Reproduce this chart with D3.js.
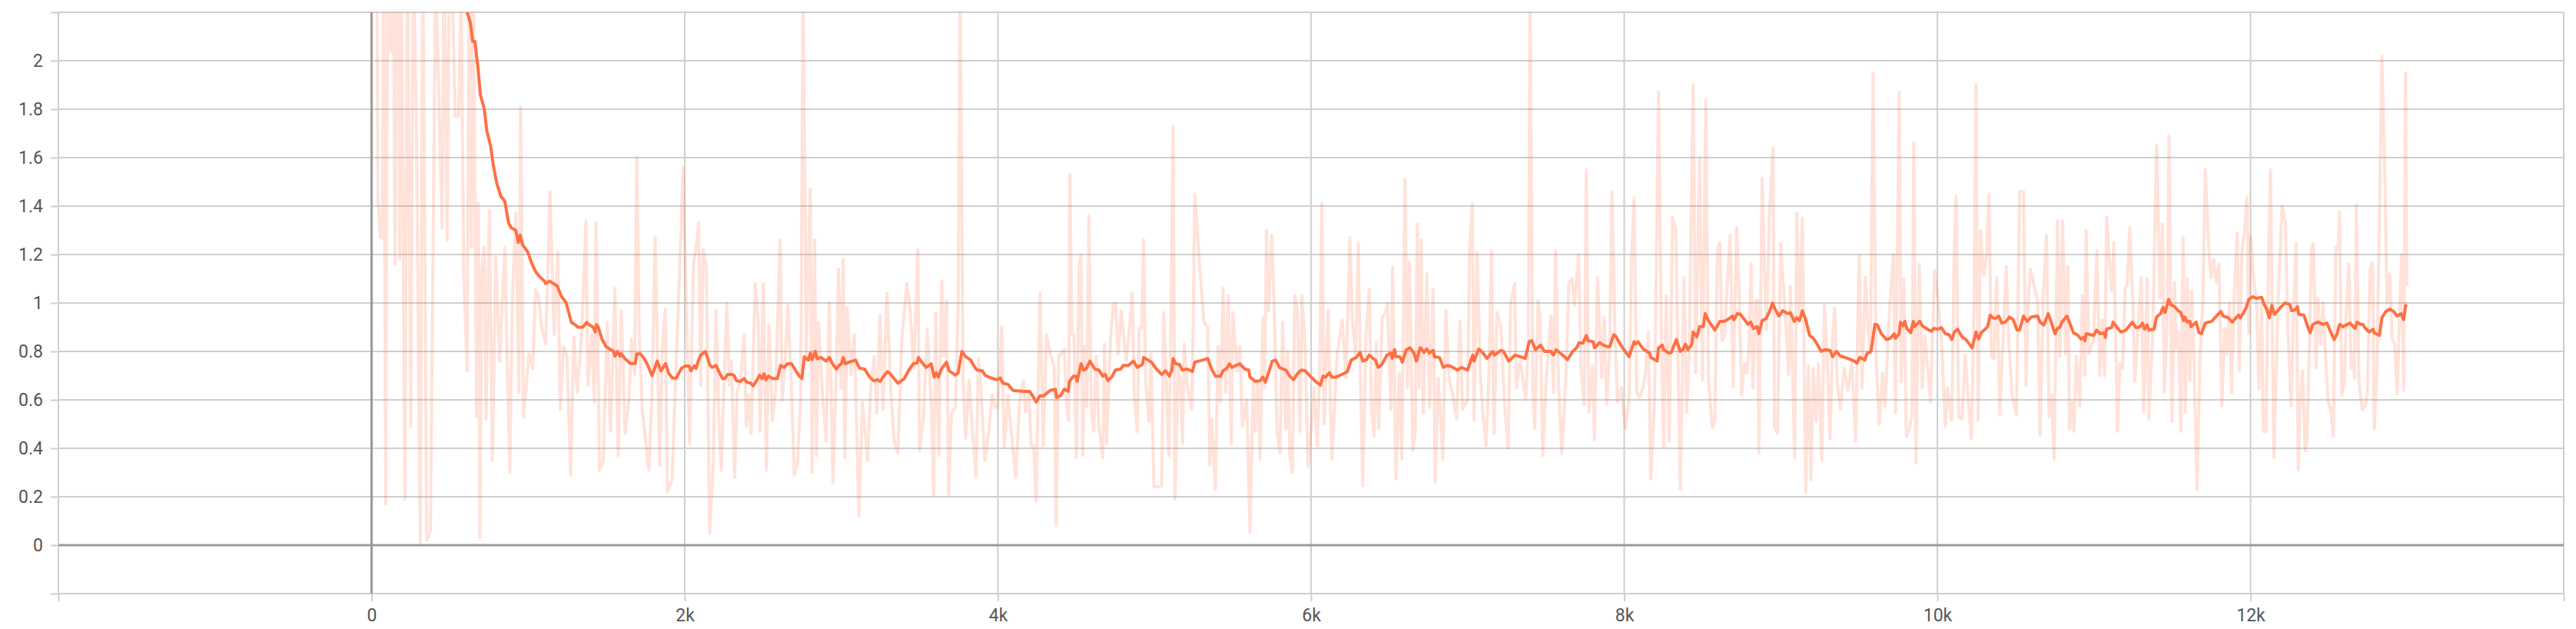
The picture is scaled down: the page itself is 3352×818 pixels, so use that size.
<!DOCTYPE html>
<html>
<head>
<meta charset="utf-8">
<script src="https://cdn.jsdelivr.net/npm/d3@7"></script>
<style>
  html, body { margin: 0; padding: 0; background: #fff; }
  svg { display: block; }
  .tick text { font-family: Roboto, "Noto Sans", sans-serif; font-size: 23px; fill: #555; }
</style>
</head>
<body>
<svg id="chart" width="3352" height="818"></svg>
<script>
// ---------- data ----------
const xTicks = [-2000, 0, 2000, 4000, 6000, 8000, 10000, 12000, 14000];
const xTickLabels = ["", "0", "2k", "4k", "6k", "8k", "10k", "12k", ""];
const yTicks = [-0.2, 0, 0.2, 0.4, 0.6, 0.8, 1, 1.2, 1.4, 1.6, 1.8, 2, 2.2];
const yTickLabels = ["", "0", "0.2", "0.4", "0.6", "0.8", "1", "1.2", "1.4", "1.6", "1.8", "2", ""];

// smoothed series [step, value]
const smoothPoints = [
[30,4.5],[200,3.4],[400,2.7],[520,2.4],[580,2.28],
[610,2.20],[630,2.16],[646,2.08],[660,2.08],[679,1.975],[695,1.86],[720,1.80],[736,1.71],[760,1.65],[777,1.57],[801,1.49],[826,1.44],[851,1.42],[875,1.33],[892,1.31],[921,1.30],[937,1.25],[949,1.28],[965,1.24],[998,1.21],[1022,1.165],[1047,1.13],[1071,1.11],[1104,1.09],[1112,1.08],[1137,1.09],[1186,1.07],[1210,1.03],[1243,1.00],[1276,0.92],[1300,0.91],[1317,0.90],[1349,0.90],[1374,0.92],[1390,0.91],[1415,0.90],[1428,0.88],[1436,0.91],[1448,0.90],[1472,0.85],[1497,0.82],[1521,0.81],[1546,0.80],[1554,0.78],[1570,0.80],[1587,0.78],[1595,0.79],[1619,0.77],[1652,0.75],[1685,0.75],[1693,0.79],[1717,0.79],[1742,0.77],[1766,0.74],[1791,0.70],[1824,0.76],[1848,0.72],[1878,0.75],[1897,0.71],[1922,0.69],[1946,0.69],[1979,0.73],[2004,0.74],[2028,0.74],[2040,0.72],[2061,0.74],[2072,0.73],[2086,0.76],[2102,0.785],[2131,0.80],[2148,0.77],[2159,0.745],
[2175,0.734],[2200,0.742],[2216,0.72],[2241,0.688],[2257,0.688],[2273,0.705],[2298,0.705],[2314,0.702],[2331,0.679],[2355,0.676],[2380,0.688],[2396,0.673],[2421,0.669],[2437,0.657],[2462,0.683],[2478,0.702],[2494,0.688],[2507,0.708],[2519,0.683],[2535,0.698],[2560,0.688],[2592,0.688],[2612,0.742],[2633,0.734],[2658,0.749],[2682,0.749],[2707,0.723],[2731,0.698],[2748,0.688],[2764,0.778],[2789,0.764],[2802,0.793],[2813,0.766],[2834,0.80],[2846,0.77],[2870,0.775],[2903,0.76],[2924,0.775],[2944,0.749],[2969,0.727],[2985,0.742],[3001,0.749],[3013,0.775],[3026,0.749],[3050,0.756],[3091,0.764],[3116,0.731],[3149,0.727],[3181,0.694],[3206,0.679],[3230,0.683],[3247,0.676],[3271,0.698],[3296,0.717],[3312,0.708],[3337,0.688],[3361,0.669],[3402,0.688],[3435,0.727],[3459,0.749],[3484,0.752],[3492,0.775],[3508,0.76],[3541,0.734],[3574,0.749],[3593,0.694],[3606,0.712],[3620,0.694],[3639,0.727],[3672,0.756],[3688,0.72],[3729,0.702],[3746,0.712],[3770,0.80],[3795,0.778],[3827,0.764],[3852,0.734],[3868,0.723],[3901,0.72],[3917,0.702],[3942,0.694],[3991,0.683],[4015,0.69],[4032,0.669],[4064,0.664],[4097,0.639],[4163,0.635],[4203,0.635],[4228,0.61],[4244,0.591],[4269,0.617],[4293,0.617],
[4334,0.639],[4367,0.644],[4375,0.61],[4400,0.617],[4424,0.644],[4449,0.635],[4457,0.676],[4482,0.698],[4498,0.698],[4506,0.676],[4531,0.749],[4547,0.723],[4563,0.727],[4588,0.76],[4620,0.727],[4645,0.723],[4670,0.698],[4686,0.705],[4702,0.679],[4727,0.694],[4751,0.723],[4784,0.727],[4800,0.742],[4833,0.742],[4866,0.76],[4890,0.734],[4923,0.746],[4931,0.775],[4980,0.756],[5013,0.727],[5046,0.705],[5070,0.72],[5095,0.698],[5111,0.723],[5119,0.771],[5136,0.749],[5160,0.746],[5177,0.723],[5209,0.727],[5242,0.717],[5258,0.756],[5307,0.764],[5340,0.771],[5365,0.727],[5389,0.698],[5422,0.698],[5438,0.72],[5463,0.731],[5479,0.749],[5495,0.734],[5520,0.742],[5545,0.749],[5577,0.727],[5602,0.723],[5610,0.694],[5643,0.676],[5675,0.679],[5692,0.694],[5708,0.673],[5733,0.72],[5752,0.76],[5774,0.764],[5798,0.734],[5823,0.727],[5839,0.723],[5864,0.698],[5888,0.683],[5913,0.708],[5937,0.723],[5962,0.72],[5994,0.698],[6035,0.673],[6060,0.661],[6076,0.698],[6093,0.694],[6117,0.712],[6133,0.694],[6158,0.694],[6207,0.708],[6232,0.717],[6256,0.764],[6289,0.775],[6313,0.796],[6330,0.76],[6354,0.766],[6371,0.785],[6395,0.771],[6412,0.764],[6428,0.734],[6452,0.746],
[6485,0.785],[6510,0.793],[6518,0.771],[6534,0.807],[6542,0.778],[6567,0.778],[6583,0.756],[6608,0.807],[6632,0.815],[6657,0.793],[6673,0.76],[6690,0.80],[6698,0.815],[6722,0.796],[6739,0.81],[6755,0.793],[6780,0.804],[6788,0.778],[6820,0.775],[6845,0.734],[6870,0.742],[6894,0.738],[6935,0.723],[6960,0.734],[7000,0.723],[7017,0.756],[7033,0.785],[7041,0.76],[7071,0.81],[7099,0.793],[7123,0.771],[7159,0.80],[7172,0.785],[7213,0.804],[7229,0.80],[7262,0.76],[7303,0.785],[7368,0.771],[7393,0.84],[7409,0.844],[7434,0.807],[7466,0.826],[7491,0.80],[7532,0.80],[7548,0.785],[7565,0.807],[7614,0.781],[7638,0.766],[7671,0.80],[7696,0.815],[7712,0.836],[7736,0.834],[7758,0.866],[7769,0.844],[7802,0.84],[7810,0.815],[7843,0.836],[7867,0.826],[7892,0.82],[7908,0.82],[7933,0.869],[7949,0.86],[7965,0.84],[7998,0.807],[8031,0.778],[8063,0.84],[8072,0.83],[8088,0.84],[8121,0.81],[8162,0.793],[8170,0.775],[8211,0.76],[8219,0.815],[8243,0.826],[8252,0.807],[8284,0.793],[8301,0.796],[8317,0.823],[8333,0.849],[8358,0.80],[8374,0.807],[8391,0.83],[8407,0.807],[8432,0.83],[8440,0.88],[8464,0.86],[8481,0.902],[8505,0.902],[8517,0.956],[8538,0.927],[8579,0.888],[8611,0.924],
[8636,0.924],[8660,0.931],[8693,0.946],[8701,0.931],[8723,0.956],[8742,0.953],[8759,0.939],[8791,0.912],[8808,0.921],[8824,0.895],[8849,0.902],[8860,0.873],[8881,0.927],[8906,0.936],[8930,0.968],[8947,1.00],[8963,0.975],[8988,0.946],[9012,0.968],[9045,0.956],[9061,0.96],[9086,0.924],[9102,0.939],[9119,0.927],[9138,0.968],[9159,0.931],[9184,0.866],[9208,0.854],[9233,0.829],[9257,0.80],[9282,0.807],[9315,0.804],[9331,0.778],[9356,0.80],[9380,0.781],[9429,0.771],[9470,0.76],[9486,0.752],[9503,0.775],[9519,0.771],[9536,0.764],[9552,0.793],[9576,0.80],[9601,0.912],[9617,0.909],[9642,0.873],[9675,0.849],[9699,0.854],[9724,0.873],[9732,0.854],[9756,0.873],[9764,0.921],[9781,0.906],[9792,0.924],[9805,0.895],[9830,0.877],[9846,0.924],[9854,0.902],[9887,0.924],[9903,0.906],[9936,0.892],[9961,0.883],[9977,0.895],[10002,0.892],[10026,0.898],[10051,0.873],[10075,0.869],[10092,0.849],[10108,0.88],[10129,0.892],[10157,0.86],[10182,0.849],[10206,0.829],[10222,0.815],[10247,0.88],[10263,0.851],[10280,0.877],[10321,0.902],[10337,0.95],[10353,0.939],[10370,0.936],[10391,0.946],[10411,0.917],[10435,0.921],[10460,0.942],[10484,0.931],[10509,0.888],[10525,0.888],[10550,0.946],[10574,0.924],[10599,0.942],[10640,0.946],[10656,0.921],[10680,0.909],[10708,0.956],[10729,0.917],[10751,0.873],[10767,0.895],[10783,0.90],
[10795,0.921],[10828,0.946],[10869,0.877],[10893,0.869],[10918,0.851],[10934,0.858],[10942,0.844],[10950,0.873],[10999,0.866],[11016,0.888],[11040,0.873],[11065,0.877],[11073,0.858],[11081,0.892],[11114,0.899],[11122,0.921],[11171,0.88],[11204,0.888],[11245,0.921],[11269,0.898],[11294,0.902],[11310,0.917],[11323,0.892],[11340,0.909],[11351,0.888],[11384,0.892],[11400,0.942],[11425,0.956],[11441,0.982],[11454,0.96],[11477,1.015],[11490,0.994],[11515,0.985],[11539,0.968],[11555,0.96],[11572,0.927],[11580,0.942],[11596,0.921],[11613,0.924],[11621,0.902],[11653,0.921],[11670,0.877],[11686,0.873],[11711,0.917],[11752,0.924],[11809,0.965],[11825,0.946],[11858,0.939],[11883,0.921],[11907,0.939],[11924,0.95],[11935,0.939],[11956,0.96],[11973,0.982],[11989,1.015],[12013,1.026],[12038,1.019],[12071,1.023],[12087,0.994],[12103,0.975],[12120,0.939],[12136,0.99],[12152,0.953],[12177,0.971],[12218,1.00],[12251,0.994],[12262,0.968],[12283,0.971],[12300,0.985],[12308,0.953],[12341,0.95],[12365,0.902],[12381,0.877],[12398,0.912],[12430,0.921],[12463,0.912],[12488,0.917],[12512,0.88],[12534,0.849],[12553,0.873],[12569,0.912],[12589,0.902],[12635,0.917],[12668,0.895],[12681,0.921],[12700,0.912],[12717,0.912],[12733,0.895],[12758,0.88],[12782,0.892],[12790,0.877],[12823,0.866],[12839,0.939],[12864,0.965],[12888,0.975],[12913,0.965],[12937,0.946],[12962,0.956],[12978,0.931],[12991,0.99],[12998,0.994]
];

// raw series [step, value]
const rawPoints = [
[33,2.6],[41,1.43],[57,1.27],[69,1.27],[77,2.4],[90,0.17],[103,2.5],[120,2.04],[131,2.04],[139,2.4],[150,1.16],[160,2.5],[172,2.3],[180,1.18],[191,2.4],[213,0.19],[229,2.6],[250,0.49],[267,2.5],[286,1.74],[311,0.01],[327,2.5],[352,0.02],[376,0.06],[393,1.23],[409,2.4],[450,1.31],[463,2.5],[483,1.26],[496,2.4],[515,2.3],[535,1.77],[556,1.77],[572,2.3],[589,1.11],[610,0.72],[625,2.5],[638,1.23],[649,2.4],[671,0.53],[682,1.41],[692,0.03],[703,1.13],[720,1.23],[731,0.52],[752,1.38],[772,0.35],[793,1.19],[818,0.76],[851,1.23],[862,0.88],[883,0.30],[900,1.03],[921,1.37],[941,0.63],[952,1.81],[970,0.53],[1006,0.79],[1030,0.73],[1047,1.055],[1068,1.02],[1088,0.895],[1112,0.83],[1140,1.46],[1166,0.87],[1189,1.21],[1205,0.56],[1227,0.82],[1248,0.78],[1271,0.29],[1292,0.86],[1313,0.63],[1341,0.86],[1369,1.34],[1382,0.66],[1407,0.87],[1423,0.59],[1434,1.33],[1456,0.31],[1480,0.35],[1505,0.92],[1526,0.47],[1554,1.06],[1575,0.37],[1595,0.97],[1619,0.46],[1644,0.60],[1660,0.85],[1680,0.705],[1693,1.60],[1709,0.88],[1729,0.56],[1750,0.43],[1771,0.31],[1791,0.63],[1811,1.27],[1840,0.33],[1856,0.81],[1876,0.975],[1889,0.22],[1919,0.27],[1938,0.62],[1968,1.14],[1990,1.56],[2012,0.94],[2031,0.42],[2056,1.16],[2077,1.25],[2089,1.33],[2102,0.66],[2118,1.22],[2138,1.15],
[2159,0.05],[2183,0.35],[2200,0.97],[2216,0.56],[2233,0.31],[2252,0.68],[2269,1.00],[2285,0.66],[2298,0.76],[2319,0.28],[2334,0.63],[2355,0.68],[2380,0.87],[2393,0.49],[2409,0.62],[2424,0.46],[2450,1.08],[2470,0.92],[2481,0.47],[2502,1.08],[2522,0.31],[2538,0.91],[2560,0.515],[2579,0.63],[2609,1.26],[2622,0.595],[2638,0.73],[2658,0.99],[2682,0.65],[2699,0.29],[2720,0.34],[2740,0.59],[2756,2.3],[2776,0.76],[2789,1.20],[2802,1.47],[2813,0.30],[2830,1.26],[2841,0.37],[2854,0.92],[2879,0.63],[2903,0.43],[2923,1.00],[2947,0.26],[2965,0.65],[2982,1.14],[2998,0.65],[3013,1.18],[3022,0.36],[3037,0.98],[3063,0.705],[3083,0.87],[3112,0.12],[3135,0.59],[3168,0.35],[3189,0.67],[3211,0.78],[3227,0.545],[3247,0.95],[3266,0.56],[3292,1.04],[3315,0.65],[3337,0.435],[3361,0.38],[3386,0.84],[3418,1.08],[3440,0.97],[3462,0.73],[3489,1.22],[3500,0.39],[3525,0.53],[3549,0.89],[3574,0.59],[3590,0.21],[3603,0.96],[3623,0.37],[3642,1.09],[3656,0.78],[3672,1.01],[3685,0.21],[3704,0.545],[3729,0.57],[3746,0.98],[3759,2.3],[3778,0.68],[3794,0.44],[3816,0.68],[3835,0.50],[3860,0.28],[3876,0.77],[3893,0.63],[3917,0.35],[3942,0.47],[3963,0.62],[3983,0.57],[3999,0.565],[4024,0.90],[4040,0.405],[4064,0.62],[4089,0.44],[4114,0.28],[4138,0.59],[4163,0.68],[4176,0.55],[4199,0.625],[4212,0.41],[4228,0.41],[4244,0.18],[4269,1.04],[4290,0.41],
[4310,0.87],[4334,0.79],[4359,0.74],[4372,0.08],[4388,0.785],[4400,0.785],[4424,0.81],[4437,0.60],[4452,0.515],[4460,1.53],[4473,0.87],[4486,0.87],[4501,0.36],[4519,1.14],[4530,1.20],[4542,0.37],[4555,0.82],[4568,0.57],[4581,1.36],[4596,0.57],[4612,0.47],[4629,0.78],[4645,0.49],[4670,0.36],[4681,0.83],[4694,0.42],[4719,0.84],[4735,0.99],[4751,1.00],[4768,0.79],[4787,0.97],[4820,0.76],[4846,0.94],[4858,1.04],[4871,0.62],[4890,0.47],[4902,0.895],[4918,0.895],[4931,1.26],[4944,0.67],[4964,0.51],[4977,0.79],[4997,0.24],[5046,0.245],[5059,0.96],[5075,0.68],[5092,0.37],[5106,0.97],[5119,1.73],[5131,0.19],[5152,0.75],[5168,0.65],[5180,0.42],[5190,0.83],[5209,0.66],[5239,0.56],[5258,1.45],[5283,1.20],[5316,0.92],[5340,0.90],[5353,0.33],[5365,0.52],[5389,0.23],[5406,0.82],[5422,0.59],[5438,1.06],[5455,0.63],[5471,1.03],[5491,0.42],[5500,0.96],[5528,0.72],[5545,0.82],[5561,0.49],[5589,0.60],[5610,0.055],[5631,0.68],[5643,0.47],[5659,0.68],[5675,0.355],[5692,0.94],[5703,0.65],[5716,1.30],[5728,0.97],[5749,1.28],[5765,0.97],[5782,0.48],[5801,0.38],[5818,0.92],[5839,0.48],[5850,0.80],[5864,0.38],[5880,0.30],[5896,1.03],[5913,0.97],[5929,0.47],[5942,1.03],[5962,0.82],[5981,0.325],[6003,0.49],[6019,0.65],[6040,0.41],[6057,0.77],[6068,1.41],[6084,0.50],[6109,0.97],[6133,0.355],[6166,0.78],[6199,0.93],[6223,0.69],[6248,1.27],[6264,0.93],[6285,0.785],[6302,1.245],[6317,0.65],[6330,0.245],[6351,0.87],[6371,1.055],[6387,0.55],[6403,0.45],[6416,0.84],[6432,0.48],[6455,0.94],
[6477,0.96],[6488,1.00],[6510,0.56],[6521,1.15],[6542,0.275],[6564,0.71],[6580,0.355],[6600,1.51],[6616,0.65],[6629,1.17],[6649,0.39],[6665,0.46],[6678,1.325],[6690,0.65],[6703,1.26],[6717,0.545],[6739,1.12],[6758,0.57],[6780,1.055],[6793,0.26],[6812,0.69],[6842,0.355],[6861,0.97],[6881,0.69],[6902,0.63],[6930,0.52],[6951,0.925],[6968,0.56],[7000,0.60],[7012,1.215],[7030,1.41],[7041,0.515],[7061,1.21],[7082,0.69],[7099,0.53],[7118,0.41],[7136,0.705],[7152,1.215],[7169,0.46],[7188,0.96],[7213,0.895],[7237,0.57],[7259,0.40],[7275,1.00],[7300,1.08],[7311,0.65],[7336,0.76],[7372,0.60],[7388,0.85],[7398,2.3],[7417,0.63],[7429,0.48],[7450,1.01],[7463,0.94],[7480,0.37],[7499,0.65],[7512,0.78],[7532,0.946],[7548,0.63],[7561,1.215],[7581,0.66],[7601,0.38],[7627,0.68],[7646,1.08],[7666,1.10],[7682,0.99],[7708,1.20],[7725,0.72],[7745,0.58],[7758,1.55],[7774,0.55],[7797,0.74],[7810,0.435],[7830,1.105],[7856,0.69],[7872,0.94],[7888,0.58],[7908,0.82],[7921,1.46],[7941,0.88],[7957,0.59],[7982,0.65],[8006,0.48],[8031,0.60],[8047,1.18],[8063,1.435],[8080,0.63],[8096,0.61],[8121,0.65],[8137,0.72],[8153,0.88],[8170,0.275],[8194,0.60],[8219,1.87],[8239,0.79],[8252,0.405],[8268,1.03],[8288,0.43],[8309,1.355],[8330,1.30],[8358,0.23],[8382,1.105],[8399,0.55],[8415,0.79],[8440,1.90],[8456,0.71],[8481,1.60],[8500,0.68],[8521,1.84],[8538,0.68],[8563,0.485],[8579,0.515],[8595,1.22],[8611,1.25],
[8624,0.845],[8641,0.865],[8660,1.10],[8677,1.28],[8696,0.655],[8718,1.31],[8734,1.05],[8750,0.62],[8767,0.75],[8783,0.71],[8795,0.79],[8811,1.16],[8821,0.65],[8840,1.01],[8852,1.01],[8860,0.38],[8881,1.515],[8898,1.10],[8909,0.89],[8927,1.36],[8950,1.64],[8960,0.49],[8979,0.46],[8999,1.245],[9020,1.04],[9037,0.865],[9050,0.705],[9061,1.07],[9089,0.36],[9102,1.37],[9119,0.925],[9138,1.35],[9159,0.22],[9176,0.74],[9192,0.27],[9208,0.73],[9225,0.51],[9241,0.75],[9261,0.35],[9279,0.99],[9298,0.74],[9315,0.44],[9331,0.85],[9344,0.98],[9360,0.675],[9380,0.56],[9405,0.73],[9429,0.64],[9454,0.75],[9478,0.43],[9500,1.195],[9519,0.65],[9540,1.105],[9557,0.895],[9573,0.79],[9589,1.95],[9609,0.76],[9629,0.50],[9650,0.71],[9666,0.57],[9691,0.94],[9720,1.20],[9732,0.545],[9756,1.87],[9769,0.675],[9786,1.10],[9802,0.45],[9825,0.49],[9838,0.54],[9849,1.66],[9863,0.34],[9884,1.16],[9904,0.65],[9920,0.865],[9940,0.72],[9956,0.59],[9982,1.135],[10002,1.03],[10026,0.85],[10051,0.49],[10064,0.65],[10092,0.515],[10108,1.23],[10120,1.44],[10136,0.53],[10157,0.52],[10178,0.785],[10198,0.59],[10218,0.44],[10234,1.00],[10247,1.90],[10260,0.515],[10276,1.30],[10296,1.115],[10313,1.19],[10329,1.45],[10345,0.78],[10362,0.77],[10378,1.105],[10399,0.54],[10419,0.845],[10440,1.15],[10456,0.845],[10476,0.625],[10505,0.54],[10525,1.46],[10550,1.46],[10566,0.66],[10582,1.02],[10594,1.14],[10615,1.08],[10640,1.01],[10656,0.455],[10676,1.03],[10697,1.28],[10713,0.53],[10729,0.62],[10746,0.355],[10767,1.34],
[10783,0.78],[10800,1.34],[10819,0.79],[10833,1.15],[10844,0.48],[10860,0.59],[10872,0.47],[10888,0.78],[10909,0.575],[10926,1.03],[10942,0.70],[10950,1.30],[10967,0.79],[10996,0.845],[11019,1.215],[11037,0.70],[11052,0.93],[11068,0.70],[11081,1.355],[11098,1.18],[11114,1.05],[11127,1.25],[11150,0.47],[11166,0.75],[11183,0.73],[11199,1.06],[11212,1.07],[11228,1.31],[11248,1.01],[11261,0.675],[11281,0.895],[11302,1.105],[11318,0.55],[11340,1.10],[11351,0.52],[11376,0.89],[11400,1.65],[11421,1.02],[11438,1.325],[11449,0.63],[11466,0.89],[11479,1.69],[11498,0.51],[11515,1.085],[11526,0.815],[11539,0.88],[11555,0.47],[11569,1.27],[11583,0.55],[11596,1.10],[11613,0.68],[11624,1.05],[11637,0.81],[11658,0.23],[11678,0.79],[11695,0.99],[11711,1.55],[11735,1.20],[11747,1.105],[11765,1.18],[11781,1.085],[11798,1.16],[11817,0.575],[11834,0.895],[11850,0.79],[11866,1.00],[11879,0.63],[11896,1.03],[11915,1.29],[11928,0.72],[11945,1.21],[11961,1.30],[11977,1.435],[11989,0.875],[12000,1.275],[12022,1.085],[12038,1.00],[12054,0.645],[12071,1.00],[12082,0.47],[12099,0.47],[12115,1.19],[12128,1.55],[12149,0.36],[12177,1.03],[12202,1.40],[12223,1.33],[12239,0.88],[12259,0.575],[12275,0.955],[12291,1.245],[12305,0.31],[12316,0.575],[12332,0.72],[12349,0.39],[12360,0.43],[12376,0.82],[12390,1.23],[12401,1.245],[12419,0.73],[12430,1.02],[12447,0.83],[12463,1.00],[12480,0.78],[12496,0.59],[12512,0.56],[12529,0.45],[12545,1.23],[12558,1.22],[12569,1.375],[12583,0.62],[12599,0.68],[12610,0.94],[12627,1.16],[12643,0.73],[12655,0.79],[12664,0.69],[12676,1.405],[12692,0.68],[12713,0.56],[12730,0.575],[12746,0.62],[12763,1.14],[12779,1.165],[12790,0.48],[12807,0.72],[12828,1.54],[12839,2.02],[12856,1.58],[12872,1.00],[12888,1.12],[12905,0.85],[12921,0.83],[12937,0.625],[12954,1.01],[12965,1.20],[12978,0.64],[12990,1.95],[12998,1.07]
];

// ---------- layout ----------
const plotLeft = 76, plotRight = 3336, plotTop = 16, plotBottom = 772;
const svg = d3.select("#chart");

const x = d3.scaleLinear().domain([-2000, 14000]).range([plotLeft, plotRight]);
const y = d3.scaleLinear().domain([-0.2, 2.2]).range([plotBottom, plotTop]);

const gridColor = "#cfcfcf";

// horizontal gridlines
svg.append("g").selectAll("line").data(yTicks).join("line")
  .attr("x1", plotLeft).attr("x2", plotRight)
  .attr("y1", d => y(d)).attr("y2", d => y(d))
  .attr("stroke", gridColor).attr("stroke-width", 2);

// vertical gridlines
svg.append("g").selectAll("line").data(xTicks).join("line")
  .attr("x1", d => x(d)).attr("x2", d => x(d))
  .attr("y1", plotTop).attr("y2", plotBottom)
  .attr("stroke", gridColor).attr("stroke-width", 2);

// axes (ticks + labels)
const xAxis = d3.axisBottom(x).tickValues(xTicks).tickSize(10).tickPadding(10)
  .tickFormat((d, i) => xTickLabels[i]);
const gx = svg.append("g").attr("transform", `translate(0,${plotBottom})`).call(xAxis);
gx.select(".domain").remove();
gx.selectAll(".tick line").attr("stroke", gridColor).attr("stroke-width", 2);

const yAxis = d3.axisLeft(y).tickValues(yTicks).tickSize(10).tickPadding(10)
  .tickFormat((d, i) => yTickLabels[i]);
const gy = svg.append("g").attr("transform", `translate(${plotLeft},0)`).call(yAxis);
gy.select(".domain").remove();
gy.selectAll(".tick line").attr("stroke", gridColor).attr("stroke-width", 2);

// zero lines
svg.append("line").attr("x1", plotLeft).attr("x2", plotRight).attr("y1", y(0)).attr("y2", y(0))
  .attr("stroke", "#9a9a9a").attr("stroke-width", 3);
svg.append("line").attr("x1", x(0)).attr("x2", x(0)).attr("y1", plotTop).attr("y2", plotBottom)
  .attr("stroke", "#9a9a9a").attr("stroke-width", 3);

// clip
svg.append("defs").append("clipPath").attr("id", "plotclip")
  .append("rect").attr("x", plotLeft).attr("y", plotTop)
  .attr("width", plotRight - plotLeft).attr("height", plotBottom - plotTop);

const line = d3.line().x(d => x(d[0])).y(d => y(d[1]));
const plot = svg.append("g").attr("clip-path", "url(#plotclip)");

plot.append("path").datum(rawPoints)
  .attr("d", line).attr("fill", "none")
  .attr("stroke", "#ff7043").attr("stroke-opacity", 0.2)
  .attr("stroke-width", 4).attr("stroke-linejoin", "round");

plot.append("path").datum(smoothPoints)
  .attr("d", line).attr("fill", "none")
  .attr("stroke", "#ff7043")
  .attr("stroke-width", 4).attr("stroke-linejoin", "round");
</script>
</body>
</html>
